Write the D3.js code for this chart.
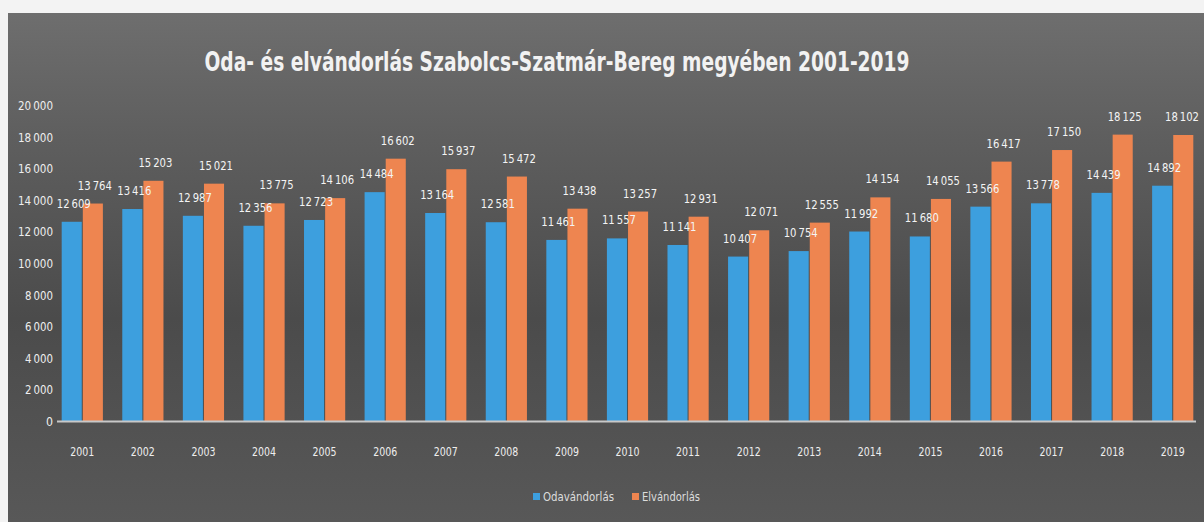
<!DOCTYPE html>
<html>
<head>
<meta charset="utf-8">
<script src="https://cdn.jsdelivr.net/npm/d3@7"></script>
<style>
  html, body { margin: 0; padding: 0; background: #f3f3f3; }
  svg { display: block; }
  text { font-family: "Liberation Sans Narrow", "DejaVu Sans Condensed", Roboto, sans-serif; }
</style>
</head>
<body>
<svg id="chart" width="1204" height="522"></svg>
<script>
const years = ["2001","2002","2003","2004","2005","2006","2007","2008","2009","2010","2011","2012","2013","2014","2015","2016","2017","2018","2019"];
const odavandorlas = [12609,13416,12987,12356,12723,14484,13164,12581,11461,11557,11141,10407,10754,11992,11680,13566,13778,14439,14892];
const elvandorlas = [13764,15203,15021,13775,14106,16602,15937,15472,13438,13257,12931,12071,12555,14154,14055,16417,17150,18125,18102];
const seriesNames = ["Odavándorlás", "Elvándorlás"];
const yTicks = [0,2000,4000,6000,8000,10000,12000,14000,16000,18000,20000];
const title = "Oda- és elvándorlás Szabolcs-Szatmár-Bereg megyében 2001-2019";

const colors = { "Odavándorlás": "#3d9fde", "Elvándorlás": "#ee8550" };
const seriesValues = { "Odavándorlás": odavandorlas, "Elvándorlás": elvandorlas };

const svg = d3.select("#chart");
const W = 1204, H = 522;

const defs = svg.append("defs");
const grad = defs.append("linearGradient").attr("id","bg").attr("x1",0).attr("y1",0).attr("x2",0).attr("y2",1);
grad.append("stop").attr("offset","0%").attr("stop-color","#6e6e6e");
grad.append("stop").attr("offset","25%").attr("stop-color","#5e5e5e");
grad.append("stop").attr("offset","60%").attr("stop-color","#4b4b4b");
grad.append("stop").attr("offset","100%").attr("stop-color","#585858");
svg.append("rect").attr("x",8).attr("y",13).attr("width",W-8).attr("height",H-13).attr("fill","url(#bg)");

const fmt = v => d3.format(",")(v).replace(/,/g, "\u2009");

const x0 = d3.scaleBand().domain(years).range([52, 1203]).paddingInner(0.32).paddingOuter(0.16);
const x1 = d3.scaleBand().domain(seriesNames).range([0, x0.bandwidth()]).paddingInner(0.05);
const y = d3.scaleLinear().domain([0, 20000]).range([421, 105]);

// title
svg.append("text")
  .attr("x", 557).attr("y", 71)
  .attr("text-anchor","middle")
  .attr("fill","#f2f2f2")
  .attr("font-family","'Open Sans', sans-serif")
  .attr("font-weight", 600)
  .attr("font-size", 26)
  .attr("textLength", 705)
  .attr("lengthAdjust","spacingAndGlyphs")
  .text(title);

// y axis
const yAxis = d3.axisLeft(y).tickValues(yTicks).tickSize(0).tickPadding(0).tickFormat(fmt);
const gy = svg.append("g").attr("transform","translate(53,0)").call(yAxis);
gy.select(".domain").remove();
gy.selectAll("text").attr("fill","#eeeeee").attr("font-size",13).attr("dy","0.35em")
  .attr("textLength", d => d >= 10000 ? 35 : (d > 0 ? 28 : 7)).attr("lengthAdjust","spacingAndGlyphs");

// bars
const groups = svg.append("g").selectAll("g").data(years).join("g")
  .attr("transform", d => `translate(${x0(d)},0)`);

groups.selectAll("rect").data((d,i) => seriesNames.map(s => ({s, v: seriesValues[s][i]}))).join("rect")
  .attr("x", d => x1(d.s))
  .attr("width", x1.bandwidth())
  .attr("y", d => y(d.v))
  .attr("height", d => y(0) - y(d.v))
  .attr("fill", d => colors[d.s]);

// data labels (kept inside the canvas on the right)
groups.each(function(year, i) {
  const g = d3.select(this);
  const gx0 = x0(year);
  seriesNames.forEach(s => {
    const v = seriesValues[s][i];
    let cx = x1(s) + x1.bandwidth()/2 + 2;
    const maxCx = (W - 22) - gx0;
    if (cx > maxCx) cx = maxCx;
    g.append("text")
      .attr("class","lbl")
      .attr("x", cx)
      .attr("y", y(v) - 14)
      .attr("text-anchor","middle")
      .attr("fill","#f4f4f4")
      .attr("font-size",13)
      .attr("textLength", 34)
      .attr("lengthAdjust","spacingAndGlyphs")
      .text(fmt(v));
  });
});

// x axis
const xAxis = d3.axisBottom(x0).tickSize(0).tickPadding(0);
const gx = svg.append("g").attr("transform","translate(0,421)").call(xAxis);
gx.select(".domain").attr("d","M57,0.5H1196").attr("stroke","#c8c8c8").attr("stroke-width",2);
gx.selectAll("text").attr("fill","#eeeeee").attr("font-size",13).attr("dy","0").attr("y",35)
  .attr("textLength", 24).attr("lengthAdjust","spacingAndGlyphs");

// legend
const legend = svg.append("g");
const legendItems = [{s:"Odavándorlás", x:533, w:71}, {s:"Elvándorlás", x:632, w:58}];
legendItems.forEach(it => {
  legend.append("rect").attr("x", it.x).attr("y", 493).attr("width",7).attr("height",7).attr("fill", colors[it.s]);
  legend.append("text").attr("x", it.x + 10).attr("y", 501).attr("fill","#dddddd").attr("font-size",12)
    .attr("textLength", it.w).attr("lengthAdjust","spacingAndGlyphs").text(it.s);
});
</script>
</body>
</html>
